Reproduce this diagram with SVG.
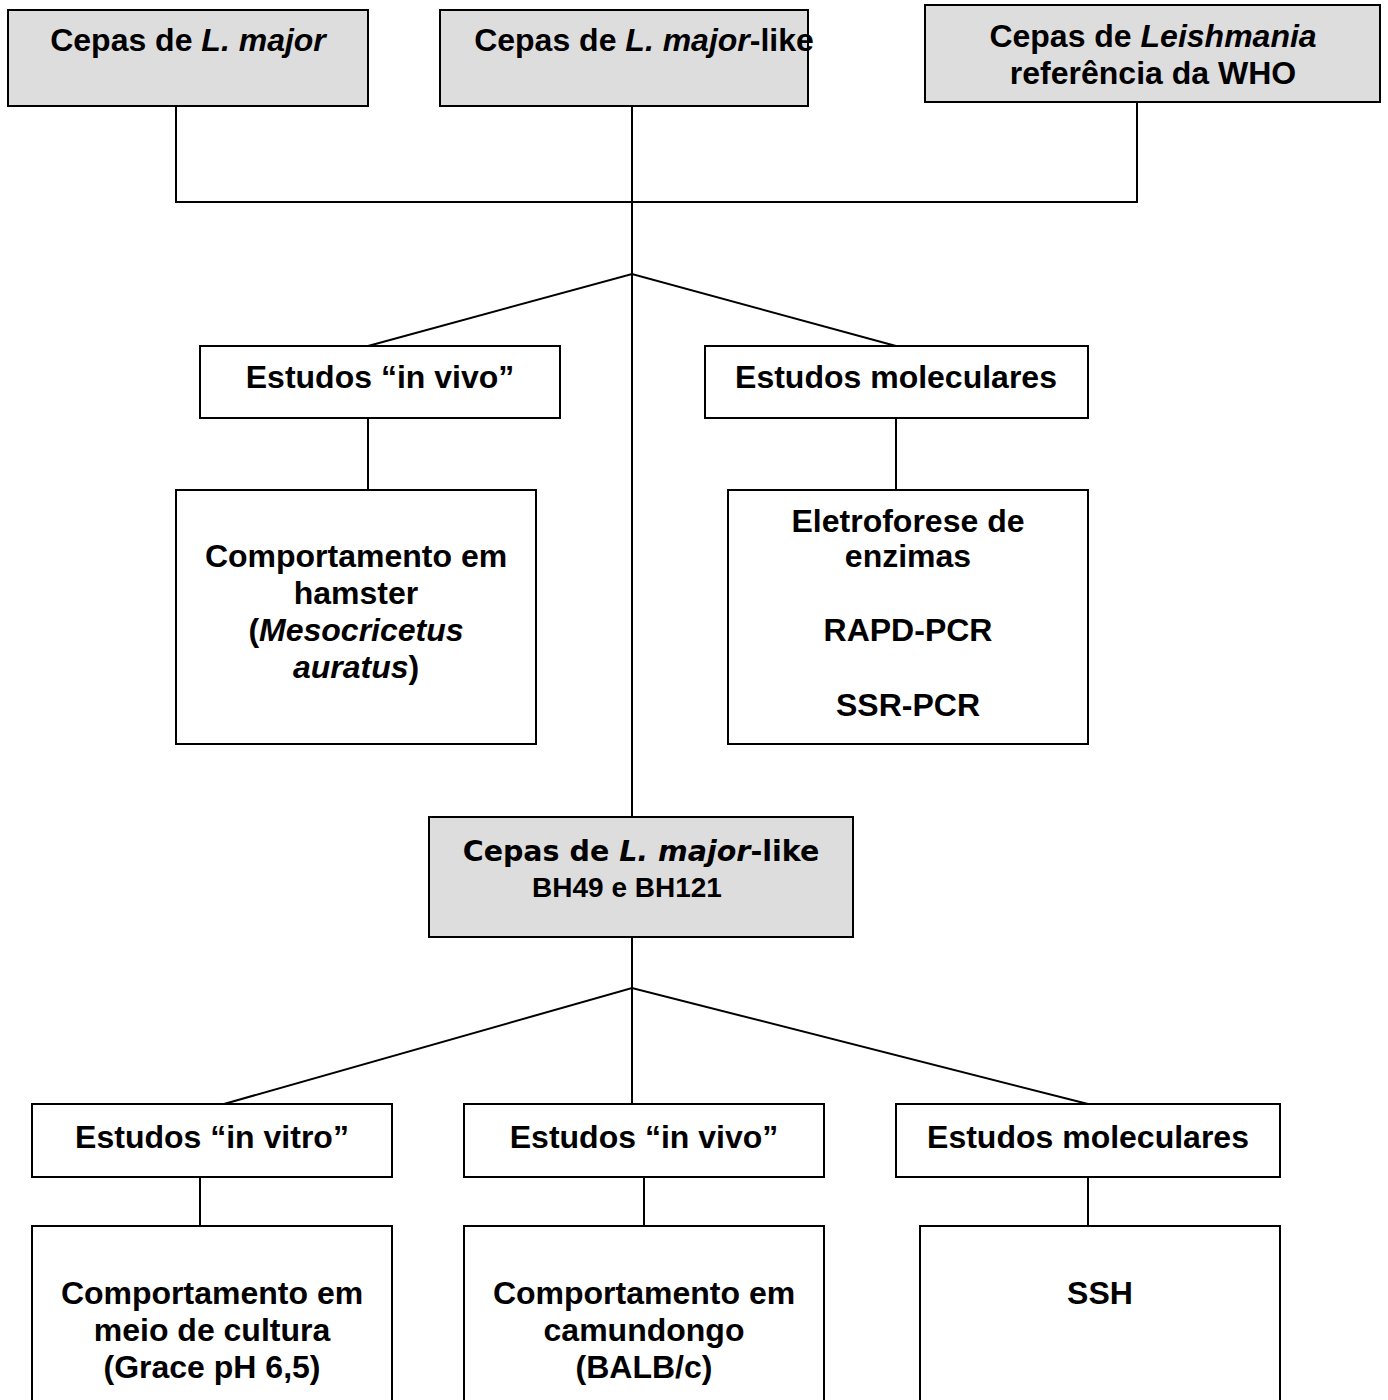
<svg xmlns="http://www.w3.org/2000/svg" width="1388" height="1400" viewBox="0 0 1388 1400">
<style>
.box{fill:#ffffff;stroke:#000;stroke-width:2}
.gray{fill:#dddddd;stroke:#000;stroke-width:2}
.t{font-family:"Liberation Sans",Arial,sans-serif;font-weight:bold;font-size:32px;fill:#000;text-anchor:middle}
.v{font-family:"DejaVu Sans",Verdana,sans-serif;font-weight:bold;font-size:28.5px;fill:#000;text-anchor:middle}
.i{font-style:italic}
.c{fill:none;stroke:#000;stroke-width:2}
</style>
<rect width="1388" height="1400" fill="#ffffff"/>
<g id="connectors">
<polyline class="c" points="176,106 176,202 1137,202 1137,102"/>
<line class="c" x1="632" y1="106" x2="632" y2="817"/>
<polyline class="c" points="368,346 632,274 896,346"/>
<line class="c" x1="368" y1="418" x2="368" y2="490"/>
<line class="c" x1="896" y1="418" x2="896" y2="490"/>
<line class="c" x1="632" y1="937" x2="632" y2="1104"/>
<polyline class="c" points="224,1104 632,988 1088,1104"/>
<line class="c" x1="200" y1="1177" x2="200" y2="1226"/>
<line class="c" x1="644" y1="1177" x2="644" y2="1226"/>
<line class="c" x1="1088" y1="1177" x2="1088" y2="1226"/>
</g>
<g id="n1">
<rect class="gray" x="8" y="10" width="360" height="96"/>
<text class="t" x="188" y="51">Cepas de <tspan class="i">L. major</tspan></text>
</g>
<g id="n2">
<rect class="gray" x="440" y="10" width="368" height="96"/>
<text class="t" x="644" y="51">Cepas de <tspan class="i">L. major</tspan>-like</text>
</g>
<g id="n3">
<rect class="gray" x="925" y="5" width="455" height="97"/>
<text class="t" x="1153" y="47">Cepas de <tspan class="i">Leishmania</tspan></text>
<text class="t" x="1153" y="84">referência da WHO</text>
</g>
<g id="n4">
<rect class="box" x="200" y="346" width="360" height="72"/>
<text class="t" x="380" y="388">Estudos “in vivo”</text>
</g>
<g id="n5">
<rect class="box" x="705" y="346" width="383" height="72"/>
<text class="t" x="896" y="388">Estudos moleculares</text>
</g>
<g id="n6">
<rect class="box" x="176" y="490" width="360" height="254"/>
<text class="t" x="356" y="567">Comportamento em</text>
<text class="t" x="356" y="604">hamster</text>
<text class="t" x="356" y="641">(<tspan class="i">Mesocricetus</tspan></text>
<text class="t" x="356" y="678"><tspan class="i">auratus</tspan>)</text>
</g>
<g id="n7">
<rect class="box" x="728" y="490" width="360" height="254"/>
<text class="t" x="908" y="532">Eletroforese de</text>
<text class="t" x="908" y="567">enzimas</text>
<text class="t" x="908" y="641">RAPD-PCR</text>
<text class="t" x="908" y="716">SSR-PCR</text>
</g>
<g id="n8">
<rect class="gray" x="429" y="817" width="424" height="120"/>
<text class="v" x="641" y="861">Cepas de <tspan class="i">L. major</tspan>-like</text>
<text class="t" x="627" y="897" style="font-size:28px">BH49 e BH121</text>
</g>
<g id="n9">
<rect class="box" x="32" y="1104" width="360" height="73"/>
<text class="t" x="212" y="1148">Estudos “in vitro”</text>
</g>
<g id="n10">
<rect class="box" x="464" y="1104" width="360" height="73"/>
<text class="t" x="644" y="1148">Estudos “in vivo”</text>
</g>
<g id="n11">
<rect class="box" x="896" y="1104" width="384" height="73"/>
<text class="t" x="1088" y="1148">Estudos moleculares</text>
</g>
<g id="n12">
<rect class="box" x="32" y="1226" width="360" height="190"/>
<text class="t" x="212" y="1304">Comportamento em</text>
<text class="t" x="212" y="1341">meio de cultura</text>
<text class="t" x="212" y="1378">(Grace pH 6,5)</text>
</g>
<g id="n13">
<rect class="box" x="464" y="1226" width="360" height="190"/>
<text class="t" x="644" y="1304">Comportamento em</text>
<text class="t" x="644" y="1341">camundongo</text>
<text class="t" x="644" y="1378">(BALB/c)</text>
</g>
<g id="n14">
<rect class="box" x="920" y="1226" width="360" height="190"/>
<text class="t" x="1100" y="1304">SSH</text>
</g>
</svg>
